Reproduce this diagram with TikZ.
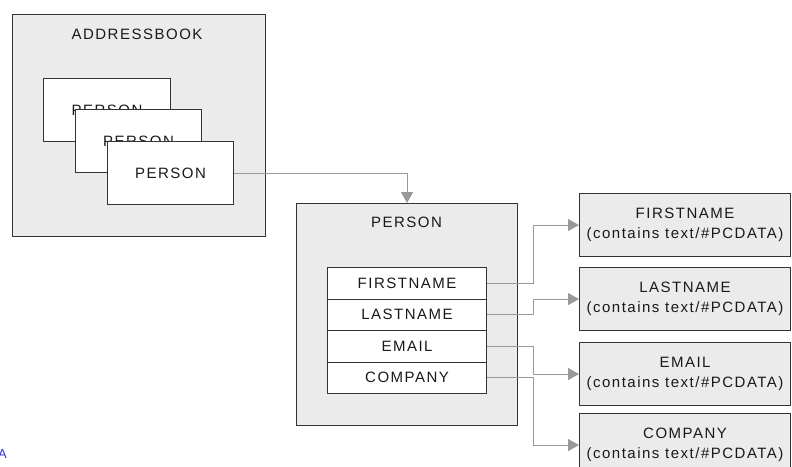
\documentclass[tikz,border=0pt]{standalone}
\usepackage{fontspec}
\usetikzlibrary{arrows.meta}
\newfontfamily\diagfont[LetterSpace=10]{Liberation Sans}
\definecolor{boxfill}{HTML}{EBEBEB}
\definecolor{boxline}{HTML}{333333}
\definecolor{connline}{HTML}{999999}
\definecolor{linkblue}{HTML}{3333CC}
\tikzset{
  txt/.style={font=\diagfont\fontsize{15}{20}\selectfont, text=black!90, align=center, inner sep=0pt},
  graybox/.style={draw=boxline, fill=boxfill, line width=1.1pt, anchor=north west, inner sep=0pt, rectangle},
  whitebox/.style={draw=boxline, fill=white, line width=1.1pt, anchor=north west, inner sep=0pt, rectangle, txt},
  rowbox/.style={whitebox, minimum width=159pt, minimum height=31.5pt},
  leafbox/.style={graybox, txt, minimum width=211pt, minimum height=63pt},
  conn/.style={draw=connline, line width=1.1pt, -{Triangle[width=12pt,length=11pt]}},
}
\begin{document}
\begin{tikzpicture}[x=1pt,y=-1pt]
\useasboundingbox (0,0) rectangle (792,466);
\clip (0,0) rectangle (792,466);

% address book container with stacked person cards
\node[graybox, minimum width=253pt, minimum height=222pt] (ab) at (12,14) {};
\node[txt] (abtitle) at (137,34) {ADDRESSBOOK};
\node[whitebox, minimum width=127pt, minimum height=63pt] (p1) at (43,78) {PERSON};
\node[whitebox, minimum width=126pt, minimum height=63pt] (p2) at (75,109) {PERSON};
\node[whitebox, minimum width=126pt, minimum height=63pt] (p3) at (107,141) {PERSON};

% person element with its children
\node[graybox, minimum width=221pt, minimum height=222pt] (pm) at (296,203) {};
\node[txt] (pmtitle) at (406.5,222) {PERSON};
\node[rowbox] (r1) at (327,267) {FIRSTNAME};
\node[rowbox] (r2) at (327,298.5) {LASTNAME};
\node[rowbox] (r3) at (327,330) {EMAIL};
\node[rowbox] (r4) at (327,361.5) {COMPANY};

% leaf elements
\node[leafbox] (b1) at (579,193) {FIRSTNAME\\(contains text/\#PCDATA)};
\node[leafbox] (b2) at (579,267) {LASTNAME\\(contains text/\#PCDATA)};
\node[leafbox] (b3) at (579,342) {EMAIL\\(contains text/\#PCDATA)};
\node[leafbox] (b4) at (579,413) {COMPANY\\(contains text/\#PCDATA)};

% connectors
\draw[conn] (p3.east) -| (pm.north);
\draw[conn] (r1.east) -- ([xshift=46pt]r1.east) |- (b1.west);
\draw[conn] (r2.east) -- ([xshift=46pt]r2.east) |- (b2.west);
\draw[conn] (r3.east) -- ([xshift=46pt]r3.east) |- (b3.west);
\draw[conn] (r4.east) -- ([xshift=46pt]r4.east) |- (b4.west);

% link text at the lower left edge
\node[font=\diagfont\fontsize{13}{14}\selectfont, text=linkblue, anchor=south east, inner sep=0pt] (lnk) at (7,459) {A};
\end{tikzpicture}
\end{document}
